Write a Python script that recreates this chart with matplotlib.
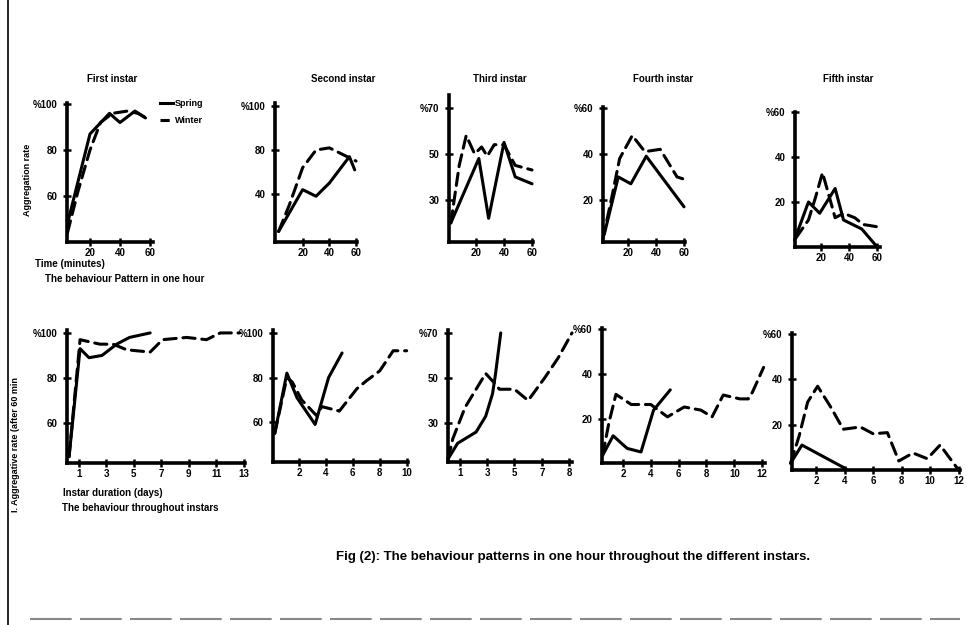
import matplotlib
matplotlib.use("Agg")
import matplotlib.pyplot as plt
from matplotlib.lines import Line2D

plt.rcParams['font.family'] = ['Liberation Sans', 'DejaVu Sans']
plt.rcParams['font.weight'] = 'bold'

W, H = 967, 625

# ---------------- data (top row: minutes, bottom row: days) ----------------
first_t_spring = [5, 20, 33, 40, 50, 57]
first_spring = [48, 87, 96, 92, 97, 94]
first_t_winter = [5, 12, 20, 27, 35, 45, 52, 60]
first_winter = [44, 62, 80, 92, 96, 97, 96, 93]

second_t_spring = [2, 20, 30, 40, 55, 59]
second_spring = [43, 62, 59, 65, 77, 71]
second_t_winter = [2, 10, 20, 30, 40, 50, 60]
second_winter = [43, 55, 72, 80, 81, 78, 75]

third_t_spring = [2, 22, 29, 40, 48, 60]
third_spring = [20, 48, 22, 55, 40, 37]
third_t_winter = [2, 8, 13, 19, 24, 28, 33, 40, 48, 60]
third_winter = [20, 45, 58, 50, 53, 49, 54, 54, 45, 43]

fourth_t_spring = [3, 13, 22, 33, 60]
fourth_spring = [5, 30, 27, 39, 17]
fourth_t_winter = [2, 8, 14, 23, 32, 43, 55, 60]
fourth_winter = [3, 20, 38, 48, 41, 42, 30, 29]

fifth_t_spring = [1, 11, 19, 30, 36, 49, 60]
fifth_spring = [3, 20, 15, 26, 12, 8, 0]
fifth_t_winter = [2, 11, 16, 21, 26, 30, 36, 44, 50, 60]
fifth_winter = [4, 12, 22, 33, 22, 13, 15, 13, 10, 9]

d1_t_spring = [0.3, 1.1, 1.75, 2.7, 3.76, 4.7, 6.2]
d1_spring = [45, 93, 89, 90, 95, 98, 100]
d1_t_winter = [0.3, 1.1, 2.55, 3.5, 4.5, 6.2, 7.1, 8.85, 10.3, 11.3, 12.7]
d1_winter = [45, 97, 95, 95, 92.5, 91.5, 97, 98, 97, 100, 100]

d2_t_spring = [0.2, 1.1, 1.85, 3.2, 4.2, 5.2]
d2_spring = [55, 82, 71, 59, 80, 91]
d2_t_winter = [0.2, 1.1, 1.5, 2.2, 3.3, 3.7, 5.0, 6.3, 7.0, 8.0, 9.0, 10.0]
d2_winter = [55, 80, 78, 70, 63, 67, 65, 75, 78.5, 83, 92, 92]

d3_t_spring = [0.15, 0.85, 2.2, 2.9, 3.4, 3.6, 4.0]
d3_spring = [14, 21, 26, 33, 43, 51, 70]
d3_t_winter = [0.15, 0.5, 1.4, 2.9, 3.5, 3.9, 5.0, 6.0, 7.2, 8.2, 9.2]
d3_winter = [14, 23, 37, 52, 48, 45, 45, 40, 50, 59, 70]

d4_t_spring = [0.55, 1.3, 2.3, 3.3, 4.2, 5.4]
d4_spring = [4, 12.6, 7, 5.4, 24, 33]
d4_t_winter = [0.55, 1.0, 1.5, 2.6, 4.0, 5.2, 6.4, 7.6, 8.4, 9.2, 10.4, 11.0, 11.3, 12.1]
d4_winter = [4, 18.5, 31, 26.5, 26.5, 21, 25.4, 24, 21, 30.7, 29, 29, 32, 43]

d5_t_spring = [0.2, 1.0, 4.1]
d5_spring = [3, 11, 0.5]
d5_t_winter = [0.2, 0.8, 1.4, 2.1, 3.0, 3.9, 5.1, 6.0, 7.0, 7.8, 8.8, 9.8, 10.7, 12.0]
d5_winter = [3, 15, 30, 37, 28, 18, 19, 16, 16.5, 4, 7.5, 5, 11, 0]

titles = ["First instar", "Second instar", "Third instar", "Fourth instar", "Fifth instar"]
min_ticks = [20, 40, 60]
yt_100 = [60, 80, 100]
yt_70 = [30, 50, 70]
yt_60 = [20, 40, 60]
yl_first = ["60", "80", "%100"]
yl_second = ["40", "80", "%100"]
yl_70 = ["30", "50", "%70"]
yl_60 = ["20", "40", "%60"]
day_ticks_1 = [1, 3, 5, 7, 9, 11, 13]
day_ticks_2 = [2, 4, 6, 8, 10]
day_ticks_3 = [1, 3, 5, 7, 9]
day_labels_3 = ["1", "3", "5", "7", "8"]
day_ticks_45 = [2, 4, 6, 8, 10, 12]

# --------------- layout: (left, right, top, bottom) in pixels ---------------
panels = [
    dict(box=(67, 153, 103, 242), xlim=(4.7, 62), ylim=(40, 100.5),
         ts=first_t_spring, s=first_spring, tw=first_t_winter, w=first_winter,
         xt=min_ticks, xl=None, yt=yt_100, yl=yl_first),
    dict(box=(275, 357, 103, 242), xlim=(-0.7, 60.7), ylim=(38.2, 101.4),
         ts=second_t_spring, s=second_spring, tw=second_t_winter, w=second_winter,
         xt=min_ticks, xl=None, yt=yt_100, yl=yl_second),
    dict(box=(449, 533, 95, 242), xlim=(0.7, 60.7), ylim=(11.7, 75.6),
         ts=third_t_spring, s=third_spring, tw=third_t_winter, w=third_winter,
         xt=min_ticks, xl=None, yt=yt_70, yl=yl_70),
    dict(box=(603, 685, 107, 242), xlim=(2.1, 60.7), ylim=(1.7, 60.4),
         ts=fourth_t_spring, s=fourth_spring, tw=fourth_t_winter, w=fourth_winter,
         xt=min_ticks, xl=None, yt=yt_60, yl=yl_60),
    dict(box=(795, 880, 112, 247), xlim=(1.4, 62), ylim=(0, 60),
         ts=fifth_t_spring, s=fifth_spring, tw=fifth_t_winter, w=fifth_winter,
         xt=min_ticks, xl=None, yt=yt_60, yl=yl_60),
    dict(box=(67, 245, 330, 463), xlim=(0.15, 13.1), ylim=(42.2, 101.3),
         ts=d1_t_spring, s=d1_spring, tw=d1_t_winter, w=d1_winter,
         xt=day_ticks_1, xl=None, yt=yt_100, yl=yl_first),
    dict(box=(273, 408, 330, 462), xlim=(0.07, 10.1), ylim=(42.2, 101.3),
         ts=d2_t_spring, s=d2_spring, tw=d2_t_winter, w=d2_winter,
         xt=day_ticks_2, xl=None, yt=yt_100, yl=yl_first),
    dict(box=(448, 572, 330, 462), xlim=(0.15, 9.2), ylim=(12.7, 71.3),
         ts=d3_t_spring, s=d3_spring, tw=d3_t_winter, w=d3_winter,
         xt=day_ticks_3, xl=day_labels_3, yt=yt_70, yl=yl_70),
    dict(box=(602, 765, 328, 463), xlim=(0.5, 12.2), ylim=(0.5, 60.5),
         ts=d4_t_spring, s=d4_spring, tw=d4_t_winter, w=d4_winter,
         xt=day_ticks_45, xl=None, yt=yt_60, yl=yl_60),
    dict(box=(792, 960, 333, 470), xlim=(0.3, 12.1), ylim=(0, 60.5),
         ts=d5_t_spring, s=d5_spring, tw=d5_t_winter, w=d5_winter,
         xt=day_ticks_45, xl=None, yt=yt_60, yl=yl_60),
]

fig = plt.figure(figsize=(W / 100, H / 100), dpi=100)
fig.patch.set_facecolor("white")

axes = []
for p in panels:
    l, r, t, b = p["box"]
    ax = fig.add_axes([l / W, 1 - b / H, (r - l) / W, (b - t) / H])
    ax.set_facecolor("none")
    for side in ("top", "right"):
        ax.spines[side].set_visible(False)
    for side in ("left", "bottom"):
        ax.spines[side].set_linewidth(2.6)
        ax.spines[side].set_color("black")
    ax.set_xlim(*p["xlim"])
    ax.set_ylim(*p["ylim"])
    ax.plot(p["ts"], p["s"], color="black", lw=2.2, solid_joinstyle="round",
            solid_capstyle="round", label="Spring", clip_on=False)
    ax.plot(p["tw"], p["w"], color="black", lw=2.2, ls=(0, (4, 2.2)),
            dash_capstyle="round", label="Winter", clip_on=False)
    ax.set_xticks(p["xt"])
    if p["xl"] is not None:
        ax.set_xticklabels(p["xl"])
    ax.set_yticks(p["yt"])
    ax.set_yticklabels(p["yl"])
    ax.tick_params(direction="inout", length=6, width=1.8, labelsize=7,
                   pad=1.5, colors="black")
    ax.tick_params(axis="y", pad=4)
    for lab in ax.get_xticklabels() + ax.get_yticklabels():
        lab.set_fontweight("bold")
    axes.append(ax)

# legend in first panel
axes[0].legend(handles=[Line2D([], [], color="black", lw=2.2),
                        Line2D([], [], color="black", lw=2.2, ls=(0, (3, 1.5)))],
               labels=["Spring", "Winter"], loc="upper left",
               bbox_to_anchor=(1.08, 1.03), frameon=False, fontsize=6.5,
               handlelength=1.5, handletextpad=0.2, labelspacing=0.9,
               borderaxespad=0, borderpad=0)

# titles
title_x = [112, 343, 500, 663, 848]
for tx, tt in zip(title_x, titles):
    fig.text(tx / W, 1 - 79 / H, tt, ha="center", va="center",
             fontsize=7, fontweight="bold")

fig.text(28 / W, 1 - 180 / H, "Aggregation rate", rotation=90,
         ha="center", va="center", fontsize=6.5, fontweight="bold")
fig.text(35 / W, 1 - 264 / H, "Time (minutes)", ha="left", va="center",
         fontsize=7, fontweight="bold")
fig.text(45 / W, 1 - 279 / H, "The behaviour Pattern in one hour", ha="left",
         va="center", fontsize=7, fontweight="bold")

fig.text(16 / W, 1 - 445 / H, "I. Aggregative rate (after 60 min", rotation=90,
         ha="center", va="center", fontsize=6.5, fontweight="bold")
fig.text(63 / W, 1 - 493 / H, "Instar duration (days)", ha="left",
         va="center", fontsize=7, fontweight="bold")
fig.text(62 / W, 1 - 508 / H, "The behaviour throughout instars", ha="left",
         va="center", fontsize=7, fontweight="bold")

fig.text(573 / W, 1 - 557 / H,
         "Fig (2): The behaviour patterns in one hour throughout the different instars.",
         ha="center", va="center", fontsize=9.5, fontweight="bold")

# scan frame lines
fig.add_artist(Line2D([8 / W, 8 / W], [0.0, 1.0], color="black", lw=1.2))
fig.add_artist(Line2D([30 / W, 960 / W], [1 - 619 / H, 1 - 619 / H],
                      color="#888888", lw=1.5, ls=(0, (20, 4))))

fig.savefig("out.png", dpi=100, facecolor="white")
